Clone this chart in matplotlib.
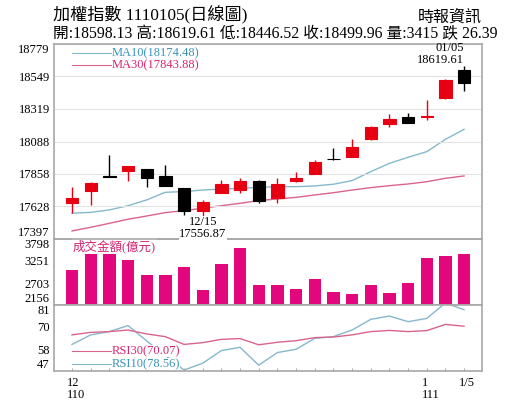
import matplotlib
matplotlib.use('Agg')
import matplotlib.pyplot as plt
from matplotlib.transforms import ScaledTranslation

plt.rcParams['font.family'] = ['Liberation Serif', 'Noto Sans CJK TC']

# daily candles 110/12/06 .. 111/01/05
opens  = [17650, 17737, 17841, 17881, 17893, 17844, 17756, 17598, 17725, 17744, 17810,
          17690, 17806, 17856, 17963, 17976, 18103, 18210, 18264, 18259, 18394, 18598.13]
highs  = [17768, 17800, 17992, 17916, 17895, 17921, 17758, 17673, 17815, 17827, 17815,
          17827, 17870, 17957, 18040, 18103, 18196, 18283, 18288, 18382, 18529, 18619.61]
lows   = [17584, 17638, 17837, 17808, 17768, 17770, 17567, 17556.87, 17721, 17721, 17650,
          17655, 17801, 17855, 17960, 17975, 18100, 18193, 18219, 18240, 18390, 18446.52]
closes = [17685, 17796, 17838, 17914, 17827, 17773, 17598, 17657, 17785, 17810, 17669,
          17787, 17827, 17942, 17961, 18047, 18193, 18245, 18221, 18269, 18526.35, 18499.96]

ma10 = [17579, 17586, 17603, 17633, 17674, 17728, 17733, 17744, 17751, 17756, 17763,
        17768, 17768, 17773, 17785, 17811, 17874, 17933, 17976, 18016, 18103, 18174.48]
ma30 = [17454, 17480, 17508, 17537, 17560, 17584, 17598, 17615, 17633, 17650, 17669,
        17681, 17692, 17709, 17725, 17744, 17761, 17775, 17787, 17803, 17827, 17843.88]

volume = [3022, 3850, 3550, 3267, 2900, 2908, 3095, 2531, 3168, 3570, 2654,
          2646, 2565, 2810, 2482, 2418, 2646, 2450, 2696, 3315, 3364, 3415]

rsi30 = [65.6, 66.9, 67.3, 68.1, 66.1, 64.7, 60.7, 61.6, 63.3, 63.7, 60.5,
         61.8, 62.6, 64.2, 64.5, 65.6, 67.3, 67.9, 67.3, 67.8, 71.0, 70.07]
rsi10 = [60.7, 65.6, 67.3, 70.4, 62.5, 55.0, 47.5, 51.0, 57.5, 59.2, 50.0,
         56.5, 58.2, 63.8, 64.7, 68.1, 73.6, 75.3, 72.4, 74.1, 82.0, 78.56]

price_ticks = [17397, 17628, 17858, 18088, 18319, 18549, 18779]
vol_ticks = [2156, 2703, 3251, 3798]
rsi_ticks = [47, 58, 70, 81]
x_labels = {0: '12\n110', 19: '1\n111', 21: '1/5'}

RED = '#e60012'
BLUE_LINE = '#86b8cc'
PINK_LINE = '#d8648e'
BLUE_TXT = '#3a93bb'
PINK_TXT = '#d6246e'
BAR = '#e2077c'
FRAME = '#a8a8a8'

W, H = 515, 413
fig = plt.figure(figsize=(5.15, 4.13), dpi=100)
L, WW = 54 / W, 428 / W
ax1 = fig.add_axes([L, 1 - 239 / H, WW, 195 / H])
ax2 = fig.add_axes([L, 1 - 305 / H, WW, 66 / H])
ax3 = fig.add_axes([L, 1 - 371 / H, WW, 66 / H])
ax1.set_zorder(3)
ax1.patch.set_visible(False)

x = list(range(len(opens)))
for ax in (ax1, ax2, ax3):
    ax.set_xlim(-0.964, 21.96)
    for s in ax.spines.values():
        s.set_color(FRAME)
        s.set_linewidth(1.2)
    ax.tick_params(axis='y', length=0, pad=3, labelsize=9)

# price panel
colors = [RED if c >= o else 'black' for o, c in zip(opens, closes)]
ax1.vlines(x, lows, highs, colors=colors, linewidth=1, zorder=2)
bottoms = [min(o, c) for o, c in zip(opens, closes)]
heights = [abs(c - o) for o, c in zip(opens, closes)]
ax1.bar(x, heights, bottom=bottoms, width=0.66, color=colors, edgecolor=colors,
        linewidth=0.8, zorder=3)
ax1.plot(x, ma10, color=BLUE_LINE, lw=1, zorder=1)
ax1.plot(x, ma30, color=PINK_LINE, lw=1, zorder=1)
ax1.set_ylim(price_ticks[0], price_ticks[-1])
ax1.set_yticks(price_ticks)
ax1.grid(axis='y', color='#e2e2e2', lw=0.8)
ax1.set_xticks([])

ax1.plot([0.042, 0.133], [0.954, 0.954], transform=ax1.transAxes, color=BLUE_LINE, lw=0.8)
ax1.plot([0.042, 0.133], [0.890, 0.890], transform=ax1.transAxes, color=PINK_LINE, lw=0.8)
ax1.text(0.134, 0.954, 'MA10(18174.48)', transform=ax1.transAxes, color=BLUE_TXT,
         fontsize=9, va='center', ha='left')
ax1.text(0.134, 0.890, 'MA30(17843.88)', transform=ax1.transAxes, color=PINK_TXT,
         fontsize=9, va='center', ha='left')

ax1.text(21, highs[21], '01/05\n18619.61', ha='right', va='bottom', fontsize=9,
         linespacing=1.05)
ax1.text(7, lows[7], '12/15\n17556.87', ha='center', va='top', fontsize=9,
         linespacing=1.0, zorder=5,
         bbox=dict(facecolor='white', edgecolor='none', pad=0.3))

# volume panel
ax2.bar(x, volume, width=0.66, color=BAR)
ax2.set_ylim(vol_ticks[0], vol_ticks[-1])
ax2.set_yticks(vol_ticks)
ax2.set_xticks([])
ax2.text(0.044, 0.894, '成交金額(億元)', transform=ax2.transAxes, color=PINK_TXT,
         fontsize=9, va='center', ha='left',
         bbox=dict(facecolor='white', edgecolor='none', pad=0.5))

# rsi panel
ax3.plot(x, rsi10, color=BLUE_LINE, lw=1)
ax3.plot(x, rsi30, color=PINK_LINE, lw=1)
ax3.set_ylim(rsi_ticks[0], rsi_ticks[-1])
ax3.set_yticks(rsi_ticks)
ax3.plot([0.042, 0.135], [0.303, 0.303], transform=ax3.transAxes, color=PINK_LINE, lw=0.8)
ax3.plot([0.042, 0.135], [0.106, 0.106], transform=ax3.transAxes, color=BLUE_LINE, lw=0.8)
ax3.text(0.135, 0.303, 'RSI30(70.07)', transform=ax3.transAxes, color=PINK_TXT,
         fontsize=9, va='center', ha='left',
         bbox=dict(facecolor='white', edgecolor='none', pad=0.2))
ax3.text(0.135, 0.106, 'RSI10(78.56)', transform=ax3.transAxes, color=BLUE_TXT,
         fontsize=9, va='center', ha='left',
         bbox=dict(facecolor='white', edgecolor='none', pad=0.2))
ax3.set_xticks(x)
ax3.set_xticklabels([x_labels.get(i, '') for i in x], fontsize=9, linespacing=1.0)
ax3.tick_params(axis='x', direction='in', length=2.5, color=FRAME, pad=4)
offset = ScaledTranslation(-5 / 100, 0, fig.dpi_scale_trans)
for lab in ax3.get_xticklabels():
    lab.set_horizontalalignment('left')
    lab.set_multialignment('left')
    lab.set_transform(lab.get_transform() + offset)

for ax in (ax1, ax2, ax3):
    labs = ax.get_yticklabels()
    labs[0].set_verticalalignment('bottom')
    labs[-1].set_verticalalignment('top')

# header
fig.text(53 / W, 1 - 15 / H, '加權指數 1110105(日線圖)', fontsize=12.3, va='center', ha='left')
fig.text(482 / W, 1 - 17.5 / H, '時報資訊', fontsize=11.5, va='center', ha='right')
fig.text(53 / W, 1 - 34.5 / H,
         '開:18598.13 高:18619.61 低:18446.52 收:18499.96 量:3415 跌 26.39',
         fontsize=11.3, va='center', ha='left')

fig.savefig('out.png', dpi=100)
